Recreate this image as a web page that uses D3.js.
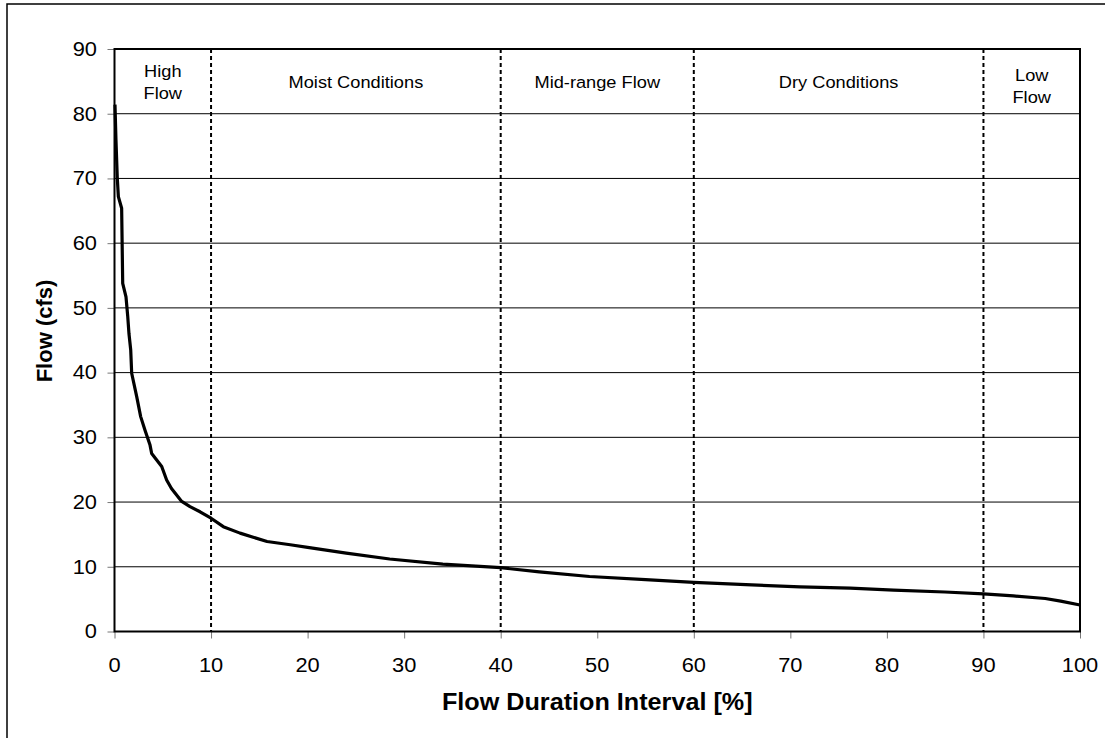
<!DOCTYPE html>
<html>
<meta charset="utf-8">
<style>
  body { margin: 0; background: #fff; }
  text { font-family: "Liberation Sans", Arial, sans-serif; fill: #000; }
  .grid line { stroke: #000; stroke-width: 1; }
  .zone { stroke: #000; stroke-width: 2; stroke-dasharray: 4,3; }
</style>
<body>
<script src="https://d3js.org/d3.v7.min.js"></script>
<script>
  // flow duration curve
  let durationPct = [0.05, 0.15, 0.29, 0.4, 0.74, 0.85, 1.19, 1.37, 1.5, 1.68, 1.78, 2.3, 2.71, 3.16, 3.68, 3.85,
    4.89, 5.4, 5.9, 6.96, 7.82, 8.86, 10, 11.27, 13, 15.8, 18.2, 20, 24, 28.5, 34, 40, 44, 49.2, 55, 60,
    66, 71, 76.2, 80.7, 86, 90, 93.1, 96.4, 98, 100];
  let flowCfs = [81.4, 76, 70, 67.2, 65.4, 53.8, 51.7, 48.7, 46, 43.5, 39.9, 36.3, 33.2, 31.1, 28.8, 27.5,
    25.5, 23.4, 22.1, 20.1, 19.3, 18.5, 17.5, 16.2, 15.2, 13.9, 13.4, 13.0, 12.1, 11.2, 10.4, 9.86, 9.2, 8.5, 8.0, 7.6,
    7.2, 6.9, 6.7, 6.4, 6.1, 5.8, 5.5, 5.1, 4.7, 4.1];

  let zoneBreaks = [10, 40, 60, 90];
  let zoneLabels = [
    { x: 5, lines: ["High", "Flow"], y0: 77 },
    { x: 25, lines: ["Moist Conditions"], y0: 88 },
    { x: 50, lines: ["Mid-range Flow"], y0: 88 },
    { x: 75, lines: ["Dry Conditions"], y0: 88 },
    { x: 95, lines: ["Low", "Flow"], y0: 81 }
  ];
  let xTicks = d3.range(0, 101, 10);
  let yTicks = d3.range(0, 91, 10);

  let width = 1105, height = 738;
  let margin = { left: 114.5, right: 25, top: 49, bottom: 106.5 };
  let sx = 1.12; // picture is a little wider than tall

  let svg = d3.select("body").append("svg")
    .attr("width", width)
    .attr("height", height);

  // outer chart frame (only left and top edges are inside the picture)
  svg.append("path")
    .attr("d", `M7,${height} V4 H${width}`)
    .attr("fill", "none")
    .attr("stroke", "#000")
    .attr("stroke-width", 1.5);

  let x = d3.scaleLinear().domain([0, 100]).range([margin.left, width - margin.right]);
  let y = d3.scaleLinear().domain([0, 90]).range([height - margin.bottom, margin.top]);

  // horizontal gridlines
  svg.append("g").attr("class", "grid")
    .selectAll("line")
    .data(yTicks.filter(d => d > 0 && d < 90))
    .join("line")
    .attr("x1", x(0)).attr("x2", x(100))
    .attr("y1", d => y(d)).attr("y2", d => y(d));

  // zone separators
  svg.append("g")
    .selectAll("line")
    .data(zoneBreaks)
    .join("line")
    .attr("class", "zone")
    .attr("x1", d => x(d)).attr("x2", d => x(d))
    .attr("y1", y(90)).attr("y2", y(0));

  // axes
  let yAxis = svg.append("g")
    .attr("transform", `translate(${x(0)},0)`)
    .call(d3.axisLeft(y).tickValues(yTicks).tickSize(7).tickFormat(""));
  let xAxis = svg.append("g")
    .attr("transform", `translate(0,${y(0)})`)
    .call(d3.axisBottom(x).tickValues(xTicks).tickSize(7).tickFormat(""));
  [xAxis, yAxis].forEach(a => {
    a.select(".domain").remove();
    a.selectAll(".tick line").attr("stroke", "#777");
  });

  // tick labels (stretched to match the picture)
  svg.append("g")
    .selectAll("text")
    .data(yTicks)
    .join("text")
    .attr("transform", d => `translate(97,${y(d)}) scale(${sx},1)`)
    .attr("text-anchor", "end")
    .attr("dy", "0.35em")
    .style("font-size", "19.5px")
    .text(d => d);
  svg.append("g")
    .selectAll("text")
    .data(xTicks)
    .join("text")
    .attr("transform", d => `translate(${x(d)},672) scale(${sx},1)`)
    .attr("text-anchor", "middle")
    .style("font-size", "19.5px")
    .text(d => d);

  // plot frame
  svg.append("rect")
    .attr("x", x(0)).attr("y", y(90))
    .attr("width", x(100) - x(0)).attr("height", y(0) - y(90))
    .attr("fill", "none")
    .attr("stroke", "#000")
    .attr("stroke-width", 2);

  // zone labels
  zoneLabels.forEach(z => {
    z.lines.forEach((t, i) => {
      svg.append("text")
        .attr("transform", `translate(${x(z.x)},${z.y0 + i * 22}) scale(1.06,1)`)
        .attr("text-anchor", "middle")
        .style("font-size", "17.2px")
        .text(t);
    });
  });

  // the curve
  let line = d3.line()
    .x((d, i) => x(durationPct[i]))
    .y(d => y(d));
  svg.append("path")
    .datum(flowCfs)
    .attr("d", line)
    .attr("fill", "none")
    .attr("stroke", "#000")
    .attr("stroke-width", 3.2)
    .attr("stroke-linejoin", "round");

  // axis titles
  svg.append("text")
    .attr("transform", `translate(${x(50)},710) scale(1.05,1)`)
    .attr("text-anchor", "middle")
    .style("font-size", "24px")
    .style("font-weight", "bold")
    .text("Flow Duration Interval [%]");
  svg.append("text")
    .attr("transform", "translate(52,331) rotate(-90)")
    .attr("text-anchor", "middle")
    .style("font-size", "22px")
    .style("font-weight", "bold")
    .text("Flow (cfs)");
</script>
</body>
</html>
